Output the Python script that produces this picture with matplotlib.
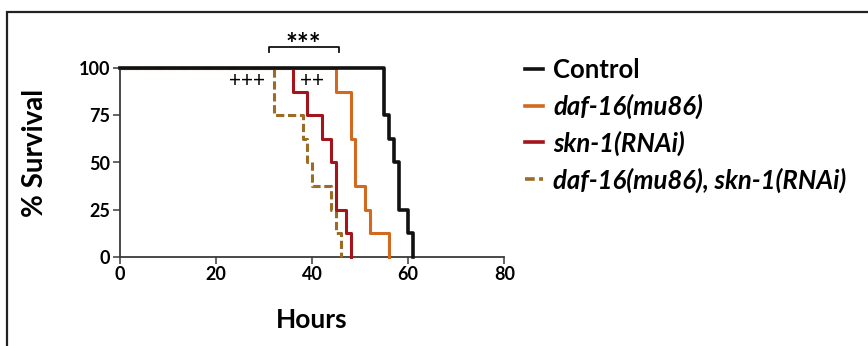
import matplotlib
matplotlib.use("Agg")
import matplotlib.pyplot as plt
from matplotlib.patches import Rectangle
from matplotlib.lines import Line2D

plt.rcParams['font.family'] = ['Lato', 'DejaVu Sans']

# Data (hours, % survival after each death event)
control_t = [0, 55, 56, 57, 58, 60, 61]
control_s = [100, 75, 62.5, 50, 25, 12.5, 0]
daf16_t = [0, 45, 48, 49, 51, 52, 56]
daf16_s = [100, 87.5, 62.5, 37.5, 25, 12.5, 0]
skn1_t = [0, 36, 39, 42, 44, 45, 47, 48]
skn1_s = [100, 87.5, 75, 62.5, 50, 25, 12.5, 0]
double_t = [0, 32, 38, 39, 40, 44, 45, 46]
double_s = [100, 75, 62.5, 50, 37.5, 25, 12.5, 0]

labels = ["Control", "daf-16(mu86)", "skn-1(RNAi)", "daf-16(mu86), skn-1(RNAi)"]
colors = ["#111111", "#D2691E", "#A3141C", "#9C6B26"]
x_ticks = [0, 20, 40, 60, 80]
y_ticks = [0, 25, 50, 75, 100]

fig = plt.figure(figsize=(8.68, 3.46), dpi=100)
ax = fig.add_axes([120/868, 89.3/346, 384.3/868, 188.4/346])

lw = 2.2
dash = (0, (2.7, 1.2))
ax.step(double_t, double_s, where='post', color=colors[3], lw=lw,
        linestyle=dash, clip_on=False, zorder=3)
ax.step(skn1_t, skn1_s, where='post', color=colors[2], lw=lw, clip_on=False, zorder=4)
ax.step(daf16_t, daf16_s, where='post', color=colors[1], lw=lw, clip_on=False, zorder=5)
ax.step(control_t, control_s, where='post', color=colors[0], lw=2.6, clip_on=False, zorder=6)

ax.set_xlim(0, 80)
ax.set_ylim(0, 100)
ax.set_xticks(x_ticks)
ax.set_yticks(y_ticks)
for s in ['top', 'right']:
    ax.spines[s].set_visible(False)
for s in ['left', 'bottom']:
    ax.spines[s].set_color('#3a3a3a')
    ax.spines[s].set_linewidth(1.3)
ax.tick_params(axis='both', direction='out', length=5, width=1.1, color='#3a3a3a',
               labelsize=13, pad=2)
for lab in ax.get_xticklabels() + ax.get_yticklabels():
    lab.set_fontweight('bold')

ax.set_xlabel("Hours", fontsize=19, fontweight='bold', labelpad=18)
ax.set_ylabel("% Survival", fontsize=20, fontweight='bold')
ax.yaxis.set_label_coords(-0.187, 0.552)

# significance annotations
ax.plot([31, 31, 45.5, 45.5], [108.5, 111.5, 111.5, 108.5], color='#111111', lw=1.3,
        clip_on=False)
ax.text(38.2, 105.5, "***", ha='center', va='bottom', fontsize=20, fontweight='bold')
ax.text(26.4, 93.5, "+++", ha='center', va='center', fontsize=15)
ax.text(40.0, 93.5, "++", ha='center', va='center', fontsize=15)

# legend
handles = [Line2D([0], [0], color=colors[0], lw=2.6),
           Line2D([0], [0], color=colors[1], lw=2.6),
           Line2D([0], [0], color=colors[2], lw=2.6),
           Line2D([0], [0], color=colors[3], lw=2.6, linestyle=dash)]
leg = fig.legend(handles, labels, loc='upper left', bbox_to_anchor=(525/868, 1 - 58/346),
                 frameon=False, prop={'weight': 'bold', 'size': 18.5},
                 handlelength=0.7, handletextpad=0.4, labelspacing=0.45,
                 borderaxespad=0, borderpad=0)
for i, t in enumerate(leg.get_texts()):
    if i > 0:
        t.set_style('italic')

# figure border
fig.patches.append(Rectangle((7/868, -0.1), 1.2, 1 - 12/346 + 0.1, transform=fig.transFigure,
                             fill=False, edgecolor='#222222', lw=1.6))

fig.savefig("out.png", dpi=100)
